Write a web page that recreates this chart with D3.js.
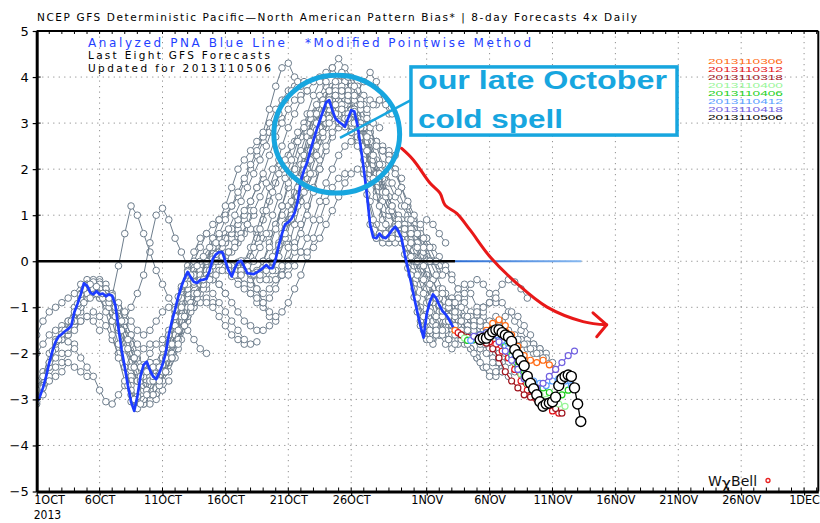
<!DOCTYPE html>
<html>
<head>
<meta charset="utf-8">
<script src="https://cdn.jsdelivr.net/npm/d3@7"></script>
<style>
  body { margin: 0; background: #fff; }
  svg { display: block; }
  text { font-family: "DejaVu Sans", sans-serif; }
</style>
</head>
<body>
<div id="chart"></div>
<script>
// days are counted from 2013-10-01 00Z
const startUtc = Date.UTC(2013, 9, 1);
const dayMs = 864e5;

const xTickDays = [0, 5, 10, 15, 20, 25, 31, 36, 41, 46, 51, 56, 61];
const xTickLabels = ["1OCT", "6OCT", "11OCT", "16OCT", "21OCT", "26OCT", "1NOV", "6NOV", "11NOV", "16NOV", "21NOV", "26NOV", "1DEC"];
const yTicks = [-5, -4, -3, -2, -1, 0, 1, 2, 3, 4, 5];

// analyzed PNA, 6-hourly from 2013100100 to 2013110506
const pnaAnalyzed = [
  -3.05, -2.94, -2.75, -2.5, -2.2, -1.95, -1.75, -1.63,
  -1.58, -1.52, -1.47, -1.4, -1.1, -0.92, -0.72, -0.48,
  -0.53, -0.68, -0.72, -0.65, -0.72, -0.7, -0.76, -0.72,
  -0.75, -0.95, -1.45, -1.92, -2.3, -2.7, -3.05, -3.25,
  -2.94, -2.5, -2.25, -2.18, -2.36, -2.5, -2.56, -2.42,
  -2.25, -2.0, -1.6, -1.3, -1.05, -0.77, -0.55, -0.37,
  -0.23, -0.35, -0.45, -0.47, -0.41, -0.4, -0.38, -0.2,
  0.05, 0.15, 0.2, 0.2, 0.0, -0.2, -0.33, -0.15,
  -0.02, 0.01, -0.12, -0.26, -0.27, -0.28, -0.24, -0.2,
  -0.14, -0.08, -0.15, -0.15, 0.05, 0.35, 0.6, 0.8,
  0.85, 0.92, 1.05, 1.3, 1.75, 1.98, 2.15, 2.4,
  2.63, 2.85, 3.05, 3.25, 3.45, 3.5, 3.28, 3.1,
  3.03, 2.98, 2.92, 3.1, 3.28, 3.25, 2.95, 2.5,
  2.0, 1.45, 0.8, 0.52, 0.5, 0.6, 0.52, 0.5,
  0.58, 0.68, 0.75, 0.65, 0.5, 0.15, -0.15, -0.45,
  -0.78, -1.1, -1.4, -1.66, -1.15, -0.88, -0.72, -0.8,
  -0.95, -1.08, -1.15, -1.25, -1.38, -1.5, -1.58, -1.63,
  -1.67, -1.72, -1.72, -1.63, -1.6, -1.7
];

// older GFS forecasts (12-hourly values), first day of each run
const grayStart = [0, 0, 0, 0, 0, 0,
  0, 0.5, 1, 1.5, 2, 2.5, 3, 3.5, 4, 4.5, 5, 5.5, 6, 6.5, 7, 7.5, 8, 8.5, 9, 9.5,
  10, 10.5, 11, 11.5, 12, 12.5, 13, 13.5, 14, 14.5, 15, 15.5, 16, 16.5, 17, 17.5,
  18, 18.5, 19, 19.5, 20, 20.5, 21, 21.5, 22, 22.5, 23, 23.5, 24, 24.5, 25, 25.5,
  26, 26.5, 27, 27.5, 28, 28.5, 29, 29.5, 30, 30.5, 31, 31.5, 32, 32.5, 33,
  1.25, 3.25, 5.25, 7.25, 9.25, 11.25, 13.25, 14.25, 15.25, 16.25, 17.25, 18.25, 19.25,
  20.25, 21.25, 22.25, 23.25, 24.25, 25.25, 26.25, 27.25, 28.25, 29.25, 30.25, 31.25, 32.25];

const grayValues = [
  [-2.6, -2.4, -2.3, -2.1, -2.0],
  [-2.9, -2.7, -2.5, -2.3, -2.2, -2.0, -1.8],
  [-3.1, -2.9, -2.6, -2.5, -2.4, -2.2, -2.3, -2.4, -2.5],
  [-2.8, -2.5, -2.2, -1.9, -1.7, -1.6, -1.4, -1.3, -1.2, -1.3, -1.5],
  [-2.0, -1.8, -1.6, -1.5, -1.4, -1.3, -1.2, -1.0, -0.8, -0.7, -0.8, -1.0, -1.3],
  [-1.6, -1.3, -1.1, -1.0, -0.9, -0.8, -0.7, -0.5, -0.4, -0.5, -0.6, -0.8, -1.0, -1.4, -1.8],
  [-3.05, -2.5, -2.0, -1.7, -1.5, -1.3, -1.0, -0.8, -0.6, -0.5, -0.6, -0.7, -0.9, -1.1, -1.4, -1.8, -2.1],
  [-2.75, -2.3, -1.9, -1.7, -1.6, -1.5, -1.3, -1.2, -1.1, -1.2, -1.4, -1.7, -2.0, -2.3, -2.5, -2.6, -2.5],
  [-2.2, -1.8, -1.6, -1.5, -1.3, -1.0, -0.7, -0.5, -0.4, -0.5, -0.7, -1.0, -1.3, -1.6, -1.8, -1.9, -1.8],
  [-1.75, -1.7, -1.75, -1.9, -2.1, -2.3, -2.5, -2.8, -3.05, -3.1, -2.9, -2.7, -2.6, -2.6, -2.7, -2.8, -2.9],
  [-1.58, -1.5, -1.3, -1.1, -0.8, -0.6, -0.5, -0.6, -0.8, -1.0, -1.3, -1.6, -2.0, -2.3, -2.5, -2.4, -2.2],
  [-1.47, -1.3, -1.0, -0.7, -0.5, -0.45, -0.6, -0.9, -1.3, -1.8, -2.2, -2.6, -2.9, -3.1, -3.0, -2.8, -2.6],
  [-1.1, -0.7, -0.5, -0.4, -0.5, -0.7, -0.9, -1.2, -1.6, -2.0, -2.4, -2.7, -2.8, -2.6, -2.3, -2.0, -1.8],
  [-0.72, -0.5, -0.45, -0.6, -0.8, -1.1, -1.5, -1.9, -2.3, -2.6, -2.8, -2.7, -2.5, -2.2, -1.9, -1.6, -1.4],
  [-0.53, -0.6, -0.7, -0.9, -1.3, -1.8, -2.3, -2.7, -3.0, -3.1, -2.9, -2.6, -2.2, -1.9, -1.6, -1.3, -1.1],
  [-0.72, -0.8, -1.1, -1.6, -2.1, -2.6, -2.9, -3.1, -3.1, -2.8, -2.5, -2.3, -2.1, -1.8, -1.5, -1.2, -1.0],
  [-0.72, -0.7, -0.9, -1.2, -1.6, -2.0, -2.4, -2.7, -2.6, -2.4, -2.1, -1.8, -1.5, -1.2, -0.9, -0.7, -0.5],
  [-0.76, -0.8, -0.9, -1.1, -1.3, -1.5, -1.6, -1.5, -1.3, -1.1, -1.0, -1.1, -1.3, -1.5, -1.7, -1.9, -2.0],
  [-0.75, -0.1, 0.6, 1.2, 1.0, 0.6, 0.2, -0.2, -0.5, -0.8, -1.0, -1.1, -1.0, -0.9, -0.8, -0.8, -0.9],
  [-1.45, -1.3, -1.0, -0.7, -0.3, 0.4, 1.0, 1.15, 0.9, 0.5, 0.2, -0.1, -0.2, -0.1, 0.0, 0.1, 0.0],
  [-2.3, -2.8, -3.1, -3.0, -2.7, -2.5, -2.3, -2.0, -1.6, -1.2, -0.8, -0.5, -0.3, -0.2, -0.3, -0.5, -0.7],
  [-3.05, -3.2, -3.0, -2.6, -2.2, -1.9, -1.6, -1.3, -1.0, -0.7, -0.4, -0.2, 0.0, 0.2, 0.3, 0.4, 0.5],
  [-2.94, -2.4, -2.0, -1.8, -1.7, -1.5, -1.2, -0.9, -0.6, -0.3, -0.1, 0.1, 0.3, 0.5, 0.6, 0.7, 0.6],
  [-2.25, -2.2, -2.3, -2.4, -2.2, -1.9, -1.5, -1.2, -1.0, -0.9, -0.9, -1.0, -1.2, -1.4, -1.6, -1.7, -1.8],
  [-2.36, -2.5, -2.6, -2.4, -2.1, -1.7, -1.3, -0.9, -0.5, -0.2, 0.1, 0.3, 0.4, 0.5, 0.7, 0.9, 1.1],
  [-2.56, -2.4, -2.1, -1.8, -1.5, -1.2, -0.9, -0.7, -0.6, -0.7, -0.9, -1.1, -1.3, -1.5, -1.7, -1.8, -1.75],
  [-2.25, -1.8, -1.4, -1.0, -0.6, -0.3, 0.0, 0.2, 0.4, 0.5, 0.5, 0.6, 0.8, 1.0, 1.3, 1.6, 1.8],
  [-1.6, -1.2, -0.8, -0.5, -0.3, -0.2, -0.3, -0.4, -0.5, -0.7, -0.9, -1.1, -1.3, -1.4, -1.5, -1.5, -1.4],
  [-1.05, -0.6, -0.2, 0.2, 0.5, 0.6, 0.5, 0.3, 0.1, -0.1, -0.3, -0.5, -0.7, -0.9, -1.0, -1.2, -1.3],
  [-0.55, -0.3, 0.0, 0.3, 0.6, 0.8, 0.9, 1.0, 1.2, 1.4, 1.7, 2.0, 2.3, 2.6, 2.8, 3.0, 3.1],
  [-0.23, -0.3, -0.4, -0.5, -0.4, -0.2, 0.0, 0.2, 0.4, 0.6, 0.7, 0.6, 0.5, 0.6, 0.8, 1.0, 1.2],
  [-0.45, -0.3, 0.0, 0.3, 0.6, 0.9, 1.2, 1.5, 1.8, 2.1, 2.4, 2.7, 3.0, 3.3, 3.5, 3.7, 3.8],
  [-0.41, 0.0, 0.5, 0.9, 1.2, 1.6, 2.0, 2.2, 2.4, 2.6, 2.8, 3.3, 3.8, 4.2, 4.3, 4.0, 3.8],
  [-0.38, -0.1, 0.2, 0.5, 0.7, 0.9, 1.1, 1.3, 1.6, 1.9, 2.3, 2.7, 3.0, 3.3, 3.5, 3.6, 3.7],
  [0.05, 0.1, 0.0, -0.2, -0.3, -0.2, 0.1, 0.5, 0.9, 1.3, 1.7, 2.0, 2.3, 2.6, 2.8, 3.0, 3.2],
  [0.2, 0.1, -0.1, -0.3, -0.5, -0.7, -0.8, -0.9, -0.8, -0.6, -0.3, 0.0, 0.4, 0.8, 1.2, 1.6, 2.0],
  [0.0, -0.3, -0.5, -0.6, -0.5, -0.3, 0.0, 0.4, 0.8, 1.2, 1.6, 2.0, 2.4, 2.8, 3.1, 3.3, 3.5],
  [-0.33, -0.2, 0.0, 0.3, 0.7, 1.1, 1.6, 2.0, 2.5, 2.9, 3.2, 3.5, 3.7, 3.9, 4.0, 3.8, 3.6],
  [-0.02, -0.2, -0.4, -0.6, -0.7, -0.6, -0.4, -0.1, 0.3, 0.8, 1.3, 1.8, 2.3, 2.7, 3.0, 3.2, 3.3],
  [-0.12, -0.3, -0.6, -0.9, -1.1, -1.2, -1.1, -0.9, -0.6, -0.3, 0.1, 0.5, 0.9, 1.3, 1.6, 1.8, 1.9],
  [-0.27, -0.2, 0.0, 0.3, 0.7, 1.2, 1.7, 2.2, 2.7, 3.2, 3.6, 3.9, 4.1, 4.2, 4.0, 3.8, 3.6],
  [-0.24, -0.3, -0.4, -0.4, -0.3, -0.1, 0.2, 0.6, 1.0, 1.5, 2.0, 2.4, 2.7, 2.9, 3.0, 3.1, 3.0],
  [-0.14, 0.0, 0.2, 0.5, 0.9, 1.4, 1.9, 2.4, 2.9, 3.3, 3.6, 3.8, 3.9, 4.0, 3.9, 3.7, 3.4],
  [-0.15, -0.2, -0.3, -0.3, -0.1, 0.2, 0.5, 0.9, 1.3, 1.7, 2.0, 2.3, 2.5, 2.6, 2.6, 2.5, 2.4],
  [0.05, 0.4, 0.9, 1.5, 2.1, 2.7, 3.2, 3.6, 3.9, 4.2, 4.4, 4.2, 4.0, 3.8, 3.6, 3.5, 3.4],
  [0.6, 0.5, 0.3, 0.2, 0.2, 0.3, 0.5, 0.8, 1.1, 1.4, 1.7, 1.9, 2.0, 1.9, 1.8, 1.7, 1.6],
  [0.85, 1.2, 1.6, 2.0, 2.5, 3.0, 3.4, 3.7, 3.9, 4.0, 3.8, 3.7, 3.9, 4.1, 3.9, 3.5, 3.2],
  [1.05, 1.3, 1.6, 1.9, 2.2, 2.5, 2.8, 3.0, 3.2, 3.3, 3.2, 3.0, 2.8, 2.6, 2.5, 2.4, 2.3],
  [1.75, 2.0, 2.3, 2.6, 2.9, 3.1, 3.3, 3.5, 3.6, 3.4, 3.1, 2.8, 2.6, 2.4, 2.2, 2.0, 1.8],
  [2.15, 2.4, 2.7, 3.0, 3.2, 3.3, 3.1, 2.8, 2.5, 2.2, 1.9, 1.6, 1.3, 1.0, 0.8, 0.6, 0.5],
  [2.63, 2.9, 3.2, 3.5, 3.7, 3.8, 3.6, 3.3, 3.0, 2.7, 2.5, 2.4, 2.3, 2.0, 1.6, 1.2, 0.9],
  [3.05, 3.3, 3.5, 3.6, 3.4, 3.2, 2.9, 2.6, 2.3, 1.9, 1.5, 1.1, 0.8, 0.5, 0.3, 0.1, 0.0],
  [3.45, 3.6, 3.8, 3.9, 3.7, 3.4, 3.1, 2.8, 2.6, 2.4, 2.2, 1.9, 1.6, 1.3, 1.0, 0.7, 0.5],
  [3.28, 3.2, 3.0, 2.8, 2.7, 2.5, 2.2, 1.9, 1.5, 1.1, 0.8, 0.5, 0.3, 0.1, -0.1, -0.3, -0.4],
  [3.03, 3.1, 3.3, 3.4, 3.2, 2.9, 2.5, 2.1, 1.7, 1.4, 1.2, 1.0, 0.8, 0.6, 0.3, 0.0, -0.3],
  [2.92, 3.0, 3.1, 2.9, 2.6, 2.2, 1.8, 1.4, 1.0, 0.7, 0.6, 0.7, 0.8, 0.9, 0.8, 0.6, 0.4],
  [3.28, 3.0, 2.6, 2.0, 1.5, 1.0, 0.7, 0.5, 0.4, 0.5, 0.6, 0.6, 0.5, 0.3, 0.1, -0.1, -0.3],
  [2.95, 2.5, 2.0, 1.4, 0.9, 0.6, 0.5, 0.6, 0.8, 0.7, 0.4, 0.0, -0.4, -0.8, -1.1, -1.3, -1.4],
  [2.0, 1.3, 0.8, 0.5, 0.4, 0.4, 0.5, 0.6, 0.5, 0.3, 0.1, 0.0, -0.1, -0.2, -0.4, -0.6, -0.8],
  [0.8, 0.5, 0.4, 0.5, 0.7, 0.9, 0.9, 0.7, 0.4, 0.0, -0.4, -0.8, -1.1, -1.3, -1.4, -1.3, -1.2],
  [0.5, 0.6, 0.5, 0.7, 0.9, 0.8, 0.5, 0.1, -0.3, -0.7, -1.0, -1.3, -1.5, -1.6, -1.8, -1.9, -2.0],
  [0.52, 0.5, 0.6, 0.8, 0.7, 0.4, 0.0, -0.4, -0.8, -1.1, -1.4, -1.6, -1.7, -1.6, -1.4, -1.2, -1.0],
  [0.58, 0.7, 0.6, 0.3, -0.1, -0.5, -0.9, -1.3, -1.6, -1.8, -1.9, -1.8, -1.6, -1.4, -1.2, -1.0, -0.9],
  [0.75, 0.6, 0.3, 0.0, -0.3, -0.6, -0.9, -1.1, -1.2, -1.1, -0.9, -0.7, -0.5, -0.4, -0.5, -0.7, -0.9],
  [0.5, 0.0, -0.5, -1.0, -1.3, -1.5, -1.6, -1.5, -1.4, -1.5, -1.7, -1.9, -2.1, -2.3, -2.4, -2.5, -2.4],
  [-0.15, -0.6, -1.1, -1.5, -1.7, -1.6, -1.3, -1.0, -0.8, -0.9, -1.1, -1.3, -1.5, -1.7, -1.9, -2.1, -2.2],
  [-0.78, -1.3, -1.7, -1.8, -1.5, -1.1, -0.8, -0.6, -0.5, -0.7, -1.0, -1.2, -1.4, -1.5, -1.6, -1.7, -1.8],
  [-1.4, -1.7, -1.6, -1.3, -1.0, -0.9, -1.0, -1.2, -1.4, -1.6, -1.8, -2.0, -2.2, -2.4, -2.5, -2.4, -2.3],
  [-1.15, -0.8, -0.6, -0.7, -0.9, -1.1, -1.3, -1.4, -1.3, -1.1, -0.9, -0.7, -0.5, -0.4, -0.45, -0.6, -0.8],
  [-0.72, -0.8, -1.0, -1.2, -1.4, -1.5, -1.6, -1.7, -1.8, -1.9, -2.0, -2.1, -2.0, -1.9, -1.8, -1.9, -2.0],
  [-0.95, -1.1, -1.3, -1.5, -1.7, -1.9, -2.1, -2.3, -2.5, -2.4, -2.2, -2.0, -1.9, -1.8, -1.7, -1.8, -1.9],
  [-1.15, -1.3, -1.4, -1.3, -1.2, -1.1, -1.0, -0.9, -0.8, -0.9, -1.1, -1.3, -1.5, -1.7, -1.8, -1.9, -2.0],
  [-1.38, -1.6, -1.7, -1.6, -1.5, -1.4, -1.3, -1.2, -1.3, -1.5, -1.6, -1.7, -1.8, -1.9, -2.0, -2.1, -2.2],
  [-1.95, -1.7, -1.5, -1.3, -1.1, -0.9, -0.8, -0.7, -0.8, -1.0, -1.2, -1.5, -1.8, -2.1, -2.3, -2.4, -2.3],
  [-0.92, -0.6, -0.5, -0.55, -0.7, -0.9, -1.2, -1.5, -1.9, -2.3, -2.6, -2.8, -2.9, -2.7, -2.4, -2.1, -1.9],
  [-0.7, -0.8, -1.0, -1.3, -1.7, -2.1, -2.5, -2.8, -2.9, -2.7, -2.4, -2.0, -1.7, -1.4, -1.1, -0.8, -0.6],
  [-2.7, -3.0, -3.1, -2.9, -2.6, -2.3, -2.1, -1.8, -1.5, -1.2, -0.9, -0.7, -0.5, -0.4, -0.3, -0.2, -0.1],
  [-2.5, -2.6, -2.4, -2.1, -1.8, -1.4, -1.0, -0.7, -0.4, -0.2, 0.0, 0.1, 0.2, 0.4, 0.6, 0.8, 1.0],
  [-0.77, -0.5, -0.3, -0.1, 0.1, 0.3, 0.4, 0.3, 0.2, 0.3, 0.5, 0.8, 1.1, 1.4, 1.7, 2.0, 2.2],
  [-0.4, -0.2, 0.1, 0.4, 0.7, 1.0, 1.3, 1.6, 1.9, 2.2, 2.5, 2.9, 3.2, 3.5, 3.7, 3.9, 3.9],
  [0.15, 0.1, -0.1, -0.2, -0.2, 0.0, 0.3, 0.7, 1.1, 1.5, 1.9, 2.2, 2.5, 2.8, 3.0, 3.1, 3.2],
  [-0.2, -0.3, -0.3, -0.2, 0.0, 0.3, 0.6, 1.0, 1.4, 1.8, 2.2, 2.6, 2.9, 3.2, 3.4, 3.5, 3.6],
  [0.01, -0.1, -0.3, -0.4, -0.4, -0.2, 0.1, 0.5, 0.9, 1.4, 1.9, 2.4, 2.8, 3.1, 3.3, 3.4, 3.4],
  [-0.28, -0.3, -0.2, 0.0, 0.4, 0.8, 1.3, 1.8, 2.3, 2.8, 3.2, 3.5, 3.7, 3.8, 3.7, 3.5, 3.3],
  [-0.08, 0.1, 0.3, 0.7, 1.1, 1.6, 2.1, 2.6, 3.0, 3.4, 3.7, 3.9, 4.1, 4.0, 3.8, 3.5, 3.2],
  [0.35, 0.6, 1.0, 1.4, 1.9, 2.4, 2.8, 3.2, 3.5, 3.7, 3.8, 3.7, 3.5, 3.3, 3.1, 3.0, 2.9],
  [0.92, 1.2, 1.5, 1.9, 2.3, 2.7, 3.1, 3.4, 3.6, 3.7, 3.6, 3.4, 3.3, 3.4, 3.5, 3.4, 3.2],
  [1.98, 2.2, 2.5, 2.8, 3.0, 3.2, 3.3, 3.2, 3.0, 2.7, 2.4, 2.1, 1.8, 1.5, 1.2, 1.0, 0.8],
  [2.85, 3.1, 3.4, 3.6, 3.7, 3.5, 3.2, 2.9, 2.6, 2.3, 2.1, 1.9, 1.7, 1.5, 1.2, 0.9, 0.6],
  [3.5, 3.6, 3.7, 3.6, 3.3, 3.0, 2.6, 2.2, 1.8, 1.4, 1.1, 0.8, 0.6, 0.5, 0.4, 0.2, 0.0],
  [2.98, 3.1, 3.2, 3.0, 2.7, 2.3, 1.9, 1.5, 1.2, 0.9, 0.7, 0.6, 0.6, 0.5, 0.3, 0.0, -0.3],
  [3.25, 2.9, 2.4, 1.8, 1.2, 0.8, 0.6, 0.5, 0.6, 0.7, 0.6, 0.3, 0.0, -0.3, -0.6, -0.9, -1.1],
  [1.45, 0.9, 0.6, 0.5, 0.5, 0.6, 0.7, 0.6, 0.3, -0.1, -0.5, -0.8, -1.1, -1.3, -1.4, -1.5, -1.5],
  [0.6, 0.6, 0.7, 0.8, 0.7, 0.4, 0.0, -0.4, -0.8, -1.2, -1.5, -1.7, -1.8, -1.7, -1.6, -1.5, -1.4],
  [0.68, 0.6, 0.4, 0.1, -0.3, -0.7, -1.1, -1.4, -1.6, -1.7, -1.6, -1.5, -1.4, -1.3, -1.3, -1.4, -1.5],
  [0.15, -0.3, -0.8, -1.2, -1.5, -1.6, -1.5, -1.3, -1.2, -1.3, -1.5, -1.7, -1.9, -2.0, -2.1, -2.2, -2.3],
  [-1.1, -1.5, -1.7, -1.5, -1.2, -1.0, -0.9, -1.0, -1.2, -1.4, -1.6, -1.7, -1.8, -1.9, -2.0, -2.1, -2.1],
  [-0.88, -0.7, -0.7, -0.9, -1.1, -1.3, -1.5, -1.7, -1.8, -1.7, -1.5, -1.3, -1.2, -1.1, -1.2, -1.4, -1.6],
  [-1.08, -1.2, -1.4, -1.6, -1.8, -2.0, -2.2, -2.3, -2.2, -2.0, -1.8, -1.7, -1.7, -1.8, -1.9, -2.0, -2.1]
];

// last eight GFS runs
const memberLabels = ["2013110306", "2013110312", "2013110318", "2013110400", "2013110406", "2013110412", "2013110418", "2013110506"];
const memberColors = ["#ff6a13", "#e4141b", "#a0141e", "#98f598", "#24d024", "#5aa0ff", "#7060e0", "#000000"];
const memberStart = [33.25, 33.5, 33.75, 34, 34.25, 34.5, 34.75];
const memberValues = [
  [-1.5, -1.6, -1.7, -1.65, -1.62, -1.5, -1.35, -1.27, -1.4, -1.6, -1.85, -2.05, -2.15, -2.2, -2.15, -2.25, -2.35],
  [-1.55, -1.65, -1.7, -1.65, -1.7, -1.75, -1.8, -1.95, -2.1, -2.35, -2.6, -2.8, -2.95, -3.0, -3.1, -3.25, -3.3],
  [-1.6, -1.65, -1.7, -1.72, -1.78, -1.9, -2.1, -2.4, -2.6, -2.75, -2.9, -2.95, -3.0, -3.05, -3.1, -3.2, -3.3],
  [-1.67, -1.7, -1.65, -1.6, -1.55, -1.6, -1.75, -1.95, -2.2, -2.45, -2.65, -2.8, -2.9, -3.0, -3.05, -3.1, -3.15],
  [-1.72, -1.7, -1.6, -1.55, -1.6, -1.7, -1.85, -2.05, -2.3, -2.5, -2.65, -2.7, -2.75, -2.85, -2.95, -2.9, -2.8],
  [-1.72, -1.68, -1.6, -1.55, -1.6, -1.72, -1.9, -2.1, -2.3, -2.5, -2.6, -2.65, -2.7, -2.6, -2.55, -2.6, -2.7],
  [-1.63, -1.6, -1.55, -1.6, -1.75, -1.95, -2.15, -2.35, -2.55, -2.7, -2.75, -2.65, -2.5, -2.35, -2.2, -2.05, -1.95]
];
// latest run 2013110506, 6-hourly
const latestStart = 35.25;
const latestValues = [
  -1.7, -1.67, -1.67, -1.6, -1.53, -1.49, -1.49, -1.55,
  -1.6, -1.64, -1.74, -1.92, -2.03, -2.16, -2.27, -2.5,
  -2.65, -2.77, -2.9, -3.05, -3.15, -3.1, -3.08, -3.05,
  -2.95, -2.7, -2.55, -2.5, -2.47, -2.5, -2.75, -3.1, -3.48
];

// hand-drawn notes, in [day, value]
const noteCircle = { day: 23.85, value: 2.76, rDays: 5.0, rValue: 1.28 };
const noteBox = { day0: 29.75, day1: 50.9, top: 4.22, bottom: 2.74 };
const noteLine = [[29.75, 3.5], [24.11, 2.68]];
const redArrow = [[29.01, 2.45], [29.94, 2.2], [31.26, 1.7], [32.06, 1.48], [32.46, 1.22], [33.39, 1.04],
  [34.45, 0.68], [36.03, 0.1], [38.16, -0.48], [40.54, -0.99], [43.43, -1.31], [45.31, -1.38]];
const redArrowHead = [[44.22, -1.12], [45.31, -1.38], [44.52, -1.64]];

const W = 820, H = 523;
const toDate = d => new Date(startUtc + d * dayMs);
const x = d3.scaleUtc().domain([toDate(0), toDate(62.13)]).range([36.7, 818.3]);
const y = d3.scaleLinear().domain([-5, 5]).range([491.5, 31]);
const xd = d => x(toDate(d));

const grayColor = "#6d7d8c";
const blueColor = "#1d3cff";
const noteColor = "#17a6df";

const svg = d3.select("#chart").append("svg")
  .attr("width", W).attr("height", H)
  .style("background", "#fff");

const defs = svg.append("defs");
defs.append("clipPath").attr("id", "plotClip").append("rect")
  .attr("x", x.range()[0]).attr("y", y(5))
  .attr("width", x.range()[1] - x.range()[0]).attr("height", y(-5) - y(5));
const grad = defs.append("linearGradient").attr("id", "zeroFade")
  .attr("gradientUnits", "userSpaceOnUse")
  .attr("x1", xd(33.25)).attr("x2", xd(43.3)).attr("y1", 0).attr("y2", 0);
grad.append("stop").attr("offset", "0%").attr("stop-color", "#2a6cd4");
grad.append("stop").attr("offset", "100%").attr("stop-color", "#86b8f0");

// grid
const grid = svg.append("g").attr("stroke", "#8f8f8f").attr("stroke-width", 1).attr("stroke-dasharray", "1.2,4.3");
grid.selectAll("line.h").data(yTicks.slice(1, -1)).join("line")
  .attr("x1", x.range()[0]).attr("x2", x.range()[1])
  .attr("y1", d => y(d)).attr("y2", d => y(d));
grid.selectAll("line.v").data(xTickDays.slice(1)).join("line")
  .attr("x1", d => xd(d)).attr("x2", d => xd(d))
  .attr("y1", y(5)).attr("y2", y(-5));

const plot = svg.append("g").attr("clip-path", "url(#plotClip)");
const line = d3.line().x(d => x(d.date)).y(d => y(d.value));
const toPoints = (start, step, values) => values.map((v, i) => ({ date: toDate(start + i * step), value: v }));

function drawRun(pts, color, r, lineWidth, markWidth) {
  const g = plot.append("g");
  g.append("path").datum(pts)
    .attr("d", line)
    .attr("fill", "none")
    .attr("stroke", color)
    .attr("stroke-width", lineWidth);
  g.selectAll("circle").data(pts).join("circle")
    .attr("cx", d => x(d.date))
    .attr("cy", d => y(d.value))
    .attr("r", r)
    .attr("fill", "#fff")
    .attr("stroke", color)
    .attr("stroke-width", markWidth);
}

// spaghetti of earlier runs
grayValues.forEach((vals, i) => drawRun(toPoints(grayStart[i], 0.5, vals), grayColor, 3.3, 1, 1));

// zero line: analyzed part black, forecast part blue
plot.append("line")
  .attr("x1", xd(0)).attr("x2", xd(33.25))
  .attr("y1", y(0)).attr("y2", y(0))
  .attr("stroke", "#000").attr("stroke-width", 2.6);
plot.append("line")
  .attr("x1", xd(33.25)).attr("x2", xd(43.3))
  .attr("y1", y(0)).attr("y2", y(0))
  .attr("stroke", "url(#zeroFade)").attr("stroke-width", 2);

// analyzed PNA
plot.append("path").datum(toPoints(0, 0.25, pnaAnalyzed))
  .attr("d", line)
  .attr("fill", "none")
  .attr("stroke", blueColor)
  .attr("stroke-width", 2.7)
  .attr("stroke-linejoin", "round");

// last eight runs
memberValues.forEach((vals, i) => drawRun(toPoints(memberStart[i], 0.5, vals), memberColors[i], 3, 1.2, 1.2));
drawRun(toPoints(latestStart, 0.25, latestValues), "#000", 5, 1.3, 1.4);

// frame
svg.append("line").attr("x1", x.range()[0]).attr("x2", x.range()[1]).attr("y1", y(5)).attr("y2", y(5))
  .attr("stroke", "#000").attr("stroke-width", 2);
svg.append("line").attr("x1", x.range()[1]).attr("x2", x.range()[1]).attr("y1", y(5)).attr("y2", y(-5))
  .attr("stroke", "#000").attr("stroke-width", 2);

// minor day ticks on top and bottom edges
const dayTicks = d3.range(0, 63);
svg.append("g").selectAll("line").data(dayTicks).join("line")
  .attr("x1", d => xd(d)).attr("x2", d => xd(d))
  .attr("y1", y(-5) - 4).attr("y2", y(-5))
  .attr("stroke", "#000").attr("stroke-width", 1);
svg.append("g").selectAll("line").data(dayTicks).join("line")
  .attr("x1", d => xd(d)).attr("x2", d => xd(d))
  .attr("y1", y(5)).attr("y2", y(5) + 3)
  .attr("stroke", "#000").attr("stroke-width", 1);
svg.append("g").selectAll("line").data(yTicks).join("line")
  .attr("x1", x.range()[0]).attr("x2", x.range()[0] + 4)
  .attr("y1", d => y(d)).attr("y2", d => y(d))
  .attr("stroke", "#000").attr("stroke-width", 1);

// x axis
const xAxisG = svg.append("g").attr("transform", `translate(0,${y(-5)})`)
  .call(d3.axisBottom(x)
    .tickValues(xTickDays.map(toDate))
    .tickFormat((d, i) => xTickLabels[i])
    .tickSizeInner(4).tickSizeOuter(0).tickPadding(0));
xAxisG.select(".domain").attr("stroke", "#000").attr("stroke-width", 3);
xAxisG.selectAll(".tick line").attr("stroke", "#000").attr("stroke-width", 1.2);
xAxisG.selectAll(".tick text")
  .attr("fill", "#000")
  .style("font-family", "'DejaVu Sans Condensed', 'DejaVu Sans', sans-serif")
  .style("font-stretch", "condensed")
  .style("font-size", "12.5px");
xAxisG.selectAll(".tick text").filter((d, i) => i === 0)
  .attr("text-anchor", "start").attr("x", -3);
svg.append("text")
  .attr("x", x.range()[0] - 3).attr("y", 519.3)
  .style("font-family", "'DejaVu Sans Condensed', 'DejaVu Sans', sans-serif")
  .style("font-stretch", "condensed")
  .style("font-size", "12px")
  .text("2013");

// y axis
const yAxisG = svg.append("g").attr("transform", `translate(${x.range()[0]},0)`)
  .call(d3.axisLeft(y)
    .tickValues(yTicks)
    .tickFormat(d => d < 0 ? "\u2212" + (-d) : String(d))
    .tickSizeInner(4).tickSizeOuter(0).tickPadding(4));
yAxisG.select(".domain").attr("stroke", "#000").attr("stroke-width", 3);
yAxisG.selectAll(".tick line").attr("stroke", "#000").attr("stroke-width", 1.2);
yAxisG.selectAll(".tick text").attr("fill", "#000").style("font-size", "13px");

// titles
svg.append("text").attr("x", 37).attr("y", 21)
  .attr("textLength", 600).attr("lengthAdjust", "spacing")
  .style("font-size", "10.5px")
  .text("NCEP GFS Deterministic Pacific\u2014North American Pattern Bias* | 8-day Forecasts 4x Daily");
svg.append("text").attr("x", 88).attr("y", 46.5)
  .attr("textLength", 197).attr("lengthAdjust", "spacing")
  .attr("fill", "#1f3fff").style("font-size", "12px")
  .text("Analyzed PNA Blue Line");
svg.append("text").attr("x", 305).attr("y", 46.5)
  .attr("textLength", 226).attr("lengthAdjust", "spacing")
  .attr("fill", "#1f3fff").style("font-size", "12px")
  .text("*Modified Pointwise Method");
svg.append("text").attr("x", 88).attr("y", 59.3)
  .attr("textLength", 182).attr("lengthAdjust", "spacing")
  .style("font-size", "10.5px")
  .text("Last Eight GFS Forecasts");
svg.append("text").attr("x", 88).attr("y", 71.7)
  .attr("textLength", 183).attr("lengthAdjust", "spacing")
  .style("font-size", "10.5px")
  .text("Updated for 2013110506");

// run legend
svg.append("g").selectAll("text").data(memberLabels).join("text")
  .attr("x", 708)
  .attr("y", (d, i) => 64 + i * 8.05)
  .attr("textLength", 75).attr("lengthAdjust", "spacingAndGlyphs")
  .attr("fill", (d, i) => memberColors[i])
  .style("font-family", "'Liberation Sans', Arial, sans-serif")
  .style("font-size", "7.2px")
  .text(d => d);

// WxBell mark
const logo = svg.append("text").attr("x", 708).attr("y", 486).style("font-size", "14px").attr("fill", "#111");
logo.append("tspan").text("W");
logo.append("tspan").attr("dy", 3).style("font-size", "16px").text("\u03c7");
logo.append("tspan").attr("dy", -3).text("Bell");
svg.append("circle").attr("cx", 768).attr("cy", 480.5).attr("r", 2)
  .attr("fill", "#fff").attr("stroke", "#e82020").attr("stroke-width", 1.3);

// annotations
svg.append("ellipse")
  .attr("cx", xd(noteCircle.day)).attr("cy", y(noteCircle.value))
  .attr("rx", xd(noteCircle.day + noteCircle.rDays) - xd(noteCircle.day))
  .attr("ry", y(noteCircle.value - noteCircle.rValue) - y(noteCircle.value))
  .attr("fill", "none").attr("stroke", noteColor).attr("stroke-width", 5);
svg.append("line")
  .attr("x1", xd(noteLine[0][0])).attr("y1", y(noteLine[0][1]))
  .attr("x2", xd(noteLine[1][0])).attr("y2", y(noteLine[1][1]))
  .attr("stroke", noteColor).attr("stroke-width", 2.5);
svg.append("rect")
  .attr("x", xd(noteBox.day0)).attr("y", y(noteBox.top))
  .attr("width", xd(noteBox.day1) - xd(noteBox.day0))
  .attr("height", y(noteBox.bottom) - y(noteBox.top))
  .attr("fill", "#fff").attr("stroke", noteColor).attr("stroke-width", 3.5);
svg.append("text")
  .attr("x", xd(noteBox.day0) + 7).attr("y", y(noteBox.top) + 22)
  .attr("textLength", 249).attr("lengthAdjust", "spacingAndGlyphs")
  .attr("fill", noteColor)
  .style("font-family", "'Liberation Sans', Arial, sans-serif")
  .style("font-weight", "bold").style("font-size", "25px")
  .text("our late October");
svg.append("text")
  .attr("x", xd(noteBox.day0) + 7).attr("y", y(noteBox.top) + 61)
  .attr("textLength", 145).attr("lengthAdjust", "spacingAndGlyphs")
  .attr("fill", noteColor)
  .style("font-family", "'Liberation Sans', Arial, sans-serif")
  .style("font-weight", "bold").style("font-size", "25px")
  .text("cold spell");

const arrowLine = d3.line().x(d => xd(d[0])).y(d => y(d[1])).curve(d3.curveCatmullRom);
svg.append("path").datum(redArrow)
  .attr("d", arrowLine)
  .attr("fill", "none").attr("stroke", "#e81818").attr("stroke-width", 3)
  .attr("stroke-linecap", "round");
svg.append("path").datum(redArrowHead)
  .attr("d", d3.line().x(d => xd(d[0])).y(d => y(d[1])))
  .attr("fill", "none").attr("stroke", "#e81818").attr("stroke-width", 3)
  .attr("stroke-linecap", "round").attr("stroke-linejoin", "round");
</script>
</body>
</html>
